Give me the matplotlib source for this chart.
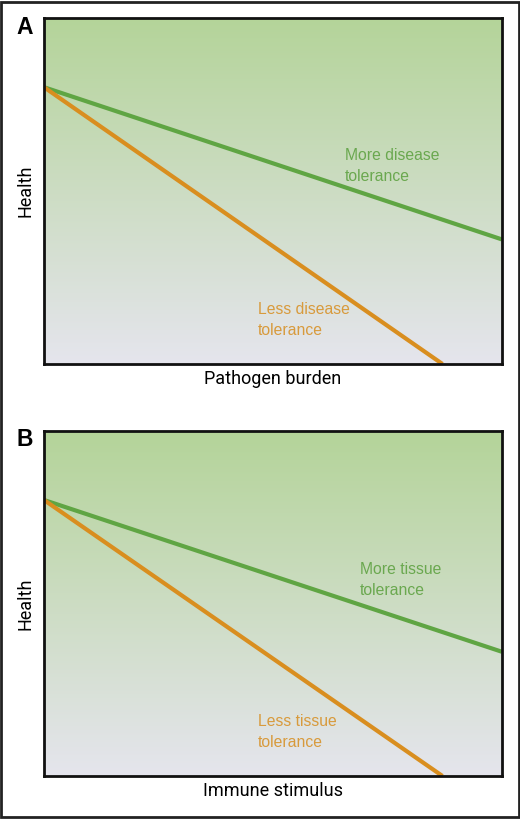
import numpy as np
import matplotlib
matplotlib.use("Agg")
import matplotlib.pyplot as plt
from matplotlib.colors import LinearSegmentedColormap
from matplotlib.patches import Rectangle

# ---- data ----
panels = ["A", "B"]
x_labels = ["Pathogen burden", "Immune stimulus"]
y_label = "Health"
more_labels = ["More disease\ntolerance", "More tissue\ntolerance"]
less_labels = ["Less disease\ntolerance", "Less tissue\ntolerance"]
more_x = [0.0, 1.0]
more_y = [0.80, 0.36]
less_x = [0.0, 0.87]
less_y = [0.80, 0.0]

GREEN = "#5fa543"
ORANGE = "#d98e1f"
GREEN_TXT = "#6aa84f"
ORANGE_TXT = "#d89a3c"

cmap = LinearSegmentedColormap.from_list("bg", ["#b4d499", "#e5e5ed"])
grad = np.linspace(0, 1, 256).reshape(-1, 1)

fig = plt.figure(figsize=(5.2, 8.19), dpi=100)
cond = ["Roboto", "DejaVu Sans"]
sans = ["Liberation Sans", "DejaVu Sans"]

axes_rects = [
    [44 / 520, 1 - 364 / 819, 458 / 520, 346 / 819],
    [44 / 520, 1 - 776 / 819, 458 / 520, 345 / 819],
]
more_pos = [(0.657, 0.572), (0.69, 0.568)]
less_pos = [(0.467, 0.127), (0.467, 0.128)]
letter_y = [1 - 27 / 819, 1 - 440 / 819]

for i in range(2):
    ax = fig.add_axes(axes_rects[i])
    ax.imshow(grad, cmap=cmap, extent=[0, 1, 0, 1], aspect="auto", zorder=0,
              origin="upper")
    ax.plot(more_x, more_y, color=GREEN, lw=3.0, solid_capstyle="butt", zorder=2)
    ax.plot(less_x, less_y, color=ORANGE, lw=3.0, solid_capstyle="butt", zorder=2)
    ax.set_xlim(0, 1)
    ax.set_ylim(0, 1)
    ax.set_xticks([])
    ax.set_yticks([])
    for s in ax.spines.values():
        s.set_linewidth(2.0)
        s.set_color("#111111")
        s.set_zorder(5)
    ax.text(more_pos[i][0], more_pos[i][1], more_labels[i], color=GREEN_TXT,
            fontsize=11.3, family=sans, va="center", ha="left", linespacing=1.45)
    ax.text(less_pos[i][0], less_pos[i][1], less_labels[i], color=ORANGE_TXT,
            fontsize=11.3, family=sans, va="center", ha="left", linespacing=1.45)
    ax.set_xlabel(x_labels[i], fontsize=13, family=cond, labelpad=4)
    ax.set_ylabel(y_label, fontsize=13, family=cond, labelpad=7)
    fig.text(25 / 520, letter_y[i], panels[i], fontsize=16.5, fontweight="bold",
             family=sans, ha="center", va="center")

fig.add_artist(Rectangle((0.002, 0.002), 0.996, 0.996, transform=fig.transFigure,
                         fill=False, edgecolor="#222222", linewidth=2.0))

fig.savefig("out.png", dpi=100)
